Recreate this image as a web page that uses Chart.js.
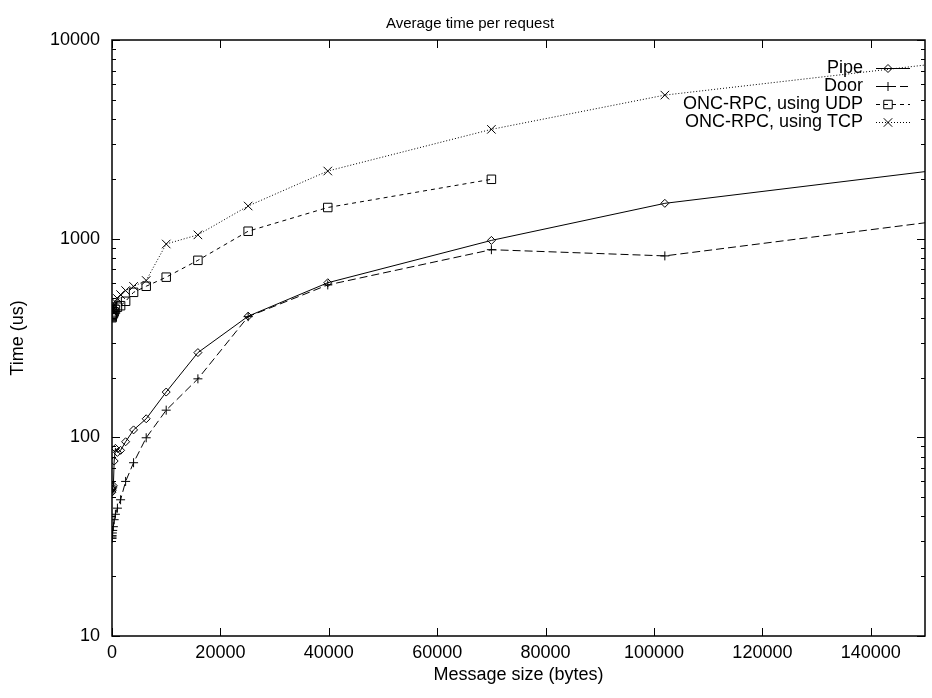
<!DOCTYPE html>
<html>
<head>
<meta charset="utf-8">
<script src="https://cdn.jsdelivr.net/npm/chart.js@4.4.1/dist/chart.umd.min.js"></script>
<style>
  html, body { margin: 0; padding: 0; background: #fff; }
  #wrap { width: 932px; height: 698px; }
</style>
</head>
<body>
<div id="wrap"><canvas id="timeChart" width="932" height="698"></canvas></div>
<script>
// message sizes (bytes), shared by all series
const sizes = [1, 4, 16, 64, 128, 256, 400, 631, 1000, 1585, 2512, 3981, 6310, 10000, 15849, 25119, 39811, 70000, 102000, 165000];

// average time per request (us)
const pipeUs = [53, 54, 55, 55, 56, 57, 76, 88, 84, 86, 95, 109, 124, 169, 267, 407, 600, 980, 1506, 2440];
const doorUs = [31, 31.5, 32, 33, 34, 35.5, 38.5, 41, 44, 48.5, 60, 74.5, 99.5, 137, 197, 405, 585, 880, 819, 1355];
const udpUs  = [400, 404, 408, 412, 416, 420, 428, 440, 452, 460, 484, 537, 576, 640, 778, 1090, 1435, 1990, null, null];
const tcpUs  = [432, 436, 440, 446, 452, 458, 466, 480, 500, 523, 548, 575, 616, 940, 1045, 1460, 2190, 3550, 5280, 8340];

const xTicks = [0, 20000, 40000, 60000, 80000, 100000, 120000, 140000];
const yTicks = [10, 100, 1000, 10000];
const yMinorTicks = [20, 30, 40, 50, 60, 70, 80, 90, 200, 300, 400, 500, 600, 700, 800, 900, 2000, 3000, 4000, 5000, 6000, 7000, 8000, 9000];

const FONT = '"Liberation Sans", Arial, Helvetica, sans-serif';

function toPoints(values) {
    return sizes.map((s, i) => ({ x: s, y: values[i] })).filter(p => p.y != null);
}

function makeSet(label, values, style, radius, dash) {
    return {
        label: label,
        data: toPoints(values),
        showLine: true,
        borderColor: '#000',
        borderWidth: 1,
        borderDash: dash,
        pointStyle: style,
        pointRadius: radius,
        pointBorderColor: '#000',
        pointBackgroundColor: 'rgba(0,0,0,0)',
        pointBorderWidth: 1,
        tension: 0
    };
}

// gnuplot-like frame: title, border, inward ticks and the key
const gnuplotFrame = {
    id: 'gnuplotFrame',
    afterDatasetsDraw(chart) {
        const ctx = chart.ctx;
        const a = chart.chartArea;
        const xs = chart.scales.x;
        const ys = chart.scales.y;
        ctx.save();

        ctx.fillStyle = '#000';
        ctx.font = '15px ' + FONT;
        ctx.textAlign = 'center';
        ctx.textBaseline = 'middle';
        ctx.fillText('Average time per request', 470, 24);

        ctx.strokeStyle = '#000';
        ctx.lineWidth = 1.5;
        ctx.setLineDash([]);
        ctx.strokeRect(a.left, a.top, a.right - a.left, a.bottom - a.top);

        ctx.lineWidth = 1;
        ctx.beginPath();
        xTicks.forEach(v => {
            const px = Math.round(xs.getPixelForValue(v)) + 0.5;
            ctx.moveTo(px, a.bottom); ctx.lineTo(px, a.bottom - 8);
            ctx.moveTo(px, a.top); ctx.lineTo(px, a.top + 8);
        });
        yTicks.forEach(v => {
            const py = Math.round(ys.getPixelForValue(v)) + 0.5;
            ctx.moveTo(a.left, py); ctx.lineTo(a.left + 8, py);
            ctx.moveTo(a.right, py); ctx.lineTo(a.right - 8, py);
        });
        yMinorTicks.forEach(v => {
            const py = Math.round(ys.getPixelForValue(v)) + 0.5;
            ctx.moveTo(a.left, py); ctx.lineTo(a.left + 4, py);
            ctx.moveTo(a.right, py); ctx.lineTo(a.right - 4, py);
        });
        ctx.stroke();

        // key, top right
        ctx.font = '18px ' + FONT;
        ctx.textAlign = 'right';
        chart.data.datasets.forEach((ds, i) => {
            const y = 68 + i * 18;
            ctx.fillStyle = '#000';
            ctx.fillText(ds.label, 863, y);
            ctx.beginPath();
            ctx.setLineDash(ds.borderDash);
            ctx.moveTo(876, y + 0.5);
            ctx.lineTo(910, y + 0.5);
            ctx.stroke();
            ctx.setLineDash([]);
            ctx.fillStyle = 'rgba(0,0,0,0)';
            Chart.helpers.drawPoint(ctx, { pointStyle: ds.pointStyle, radius: ds.pointRadius, borderWidth: 1, rotation: 0 }, 888, y + 0.5);
        });
        ctx.restore();
    }
};

const ctx = document.getElementById('timeChart').getContext('2d');
const timeChart = new Chart(ctx, {
    type: 'scatter',
    data: {
        datasets: [
            makeSet('Pipe', pipeUs, 'rectRot', 4, []),
            makeSet('Door', doorUs, 'cross', 4.5, [8, 4]),
            makeSet('ONC-RPC, using UDP', udpUs, 'rect', 6, [4, 4]),
            makeSet('ONC-RPC, using TCP', tcpUs, 'crossRot', 6, [1, 2])
        ]
    },
    options: {
        responsive: false,
        animation: false,
        layout: { padding: { top: 40, right: 3, left: 0, bottom: 0 } },
        plugins: {
            legend: { display: false },
            tooltip: { enabled: false },
            title: { display: false }
        },
        scales: {
            x: {
                type: 'linear',
                min: 0,
                max: 150000,
                afterBuildTicks: s => { s.ticks = xTicks.map(v => ({ value: v })); },
                afterFit: s => { s.height = 62; },
                grid: { display: false, drawTicks: false },
                border: { display: false },
                ticks: {
                    color: '#000',
                    font: { family: FONT, size: 18 },
                    padding: 6,
                    maxRotation: 0,
                    autoSkip: false,
                    callback: v => String(v)
                },
                title: {
                    display: true,
                    text: 'Message size (bytes)',
                    color: '#000',
                    font: { family: FONT, size: 18 },
                    padding: { top: 0, bottom: 12 }
                }
            },
            y: {
                type: 'logarithmic',
                min: 10,
                max: 10000,
                afterBuildTicks: s => { s.ticks = yTicks.map(v => ({ value: v })); },
                afterFit: s => { s.width = 112; },
                grid: { display: false, drawTicks: false },
                border: { display: false },
                ticks: {
                    color: '#000',
                    font: { family: FONT, size: 18 },
                    padding: 12,
                    autoSkip: false,
                    callback: v => String(v)
                },
                title: {
                    display: true,
                    text: 'Time (us)',
                    color: '#000',
                    font: { family: FONT, size: 18 },
                    padding: { top: 7, bottom: 0 }
                }
            }
        }
    },
    plugins: [gnuplotFrame]
});
</script>
</body>
</html>
